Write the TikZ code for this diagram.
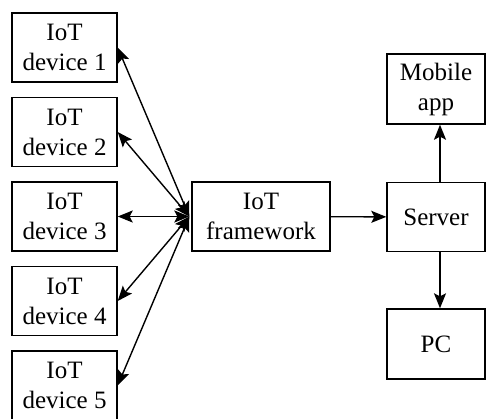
\documentclass[tikz,border=0pt]{standalone}
\usepackage{fontspec}
\setmainfont{Liberation Serif}
\usepackage{tikz}
\usetikzlibrary{positioning,calc,arrows.meta}

\begin{document}
\begin{tikzpicture}[x=0.5pt, y=-0.5pt, >=Stealth, line width=0.7pt,
  font=\fontsize{12.5}{15}\selectfont,
  box/.style={draw, align=center, minimum width=52.5pt, minimum height=34.5pt,
              inner sep=2pt},
  arr/.style={-{Stealth[length=7.5pt, width=6pt, inset=1.5pt]}},
  barr/.style={{Stealth[length=7.5pt, width=6pt, inset=1.5pt]}-{Stealth[length=7.5pt, width=6pt, inset=1.5pt]}}]
  \useasboundingbox (0,0) rectangle (486,418);
  % --- IoT devices (left column)
  \node[box] (d1) at (64.5,47.5)  {IoT\\device 1};
  \node[box] (d2) at (64.5,132)   {IoT\\device 2};
  \node[box] (d3) at (64.5,216.5) {IoT\\device 3};
  \node[box] (d4) at (64.5,301)   {IoT\\device 4};
  \node[box] (d5) at (64.5,385.5) {IoT\\device 5};
  % --- framework and back end
  \node[box, minimum width=69pt] (fw) at (261,216.5) {IoT\\framework};
  \node[box, minimum width=49pt] (srv) at (436,217) {Server};
  \node[box, minimum width=49pt, minimum height=35pt] (mob) at (436,89) {Mobile\\app};
  \node[box, minimum width=49pt, minimum height=35pt] (pc)  at (436,344) {PC};
  \coordinate (hub) at ([xshift=-1pt]fw.west);
  \foreach \d in {d1,d2,d3,d4,d5}
    \draw[barr] (hub) -- (\d.east);
  \draw[arr] (fw)  -- (srv);
  \draw[arr] ([xshift=2pt]srv.north) -- ([xshift=2pt]mob.south);
  \draw[arr] ([xshift=2pt]srv.south) -- ([xshift=2pt]pc.north);
\end{tikzpicture}
\end{document}
